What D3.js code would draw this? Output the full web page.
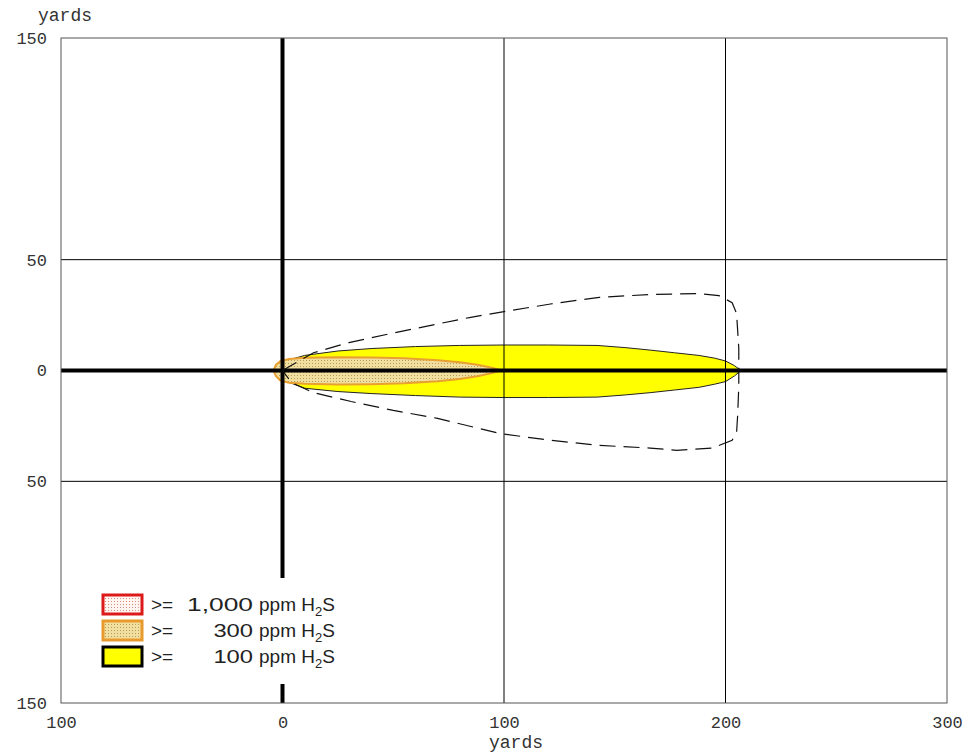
<!DOCTYPE html>
<html>
<head>
<meta charset="utf-8">
<script src="https://cdn.jsdelivr.net/npm/d3@7"></script>
<style>
  body { margin: 0; background: #fff; }
  svg { display: block; }
  .tick-label { font-family: "Liberation Mono", "DejaVu Sans Mono", monospace; font-size: 17px; fill: #333; }
  .legend-text { font-family: "Liberation Sans", Arial, sans-serif; font-size: 19px; fill: #222; }
</style>
</head>
<body>
<div id="chart"></div>
<script>
// axis ticks (yards)
const X_TICKS = [-100, 0, 100, 200, 300];
const Y_TICKS = [150, 50, 0, -50, -150];
const X_GRID = [0, 100, 200];
const Y_GRID = [50, 0, -50];

// 100 ppm plume (yellow), half widths
const plume100X = [-3, -1, 2, 10, 25, 40, 60, 80, 100, 120, 142, 155, 166, 177, 188, 195, 200, 204, 207];
const plume100Top = [0, 2.5, 4.5, 6.8, 8.8, 9.9, 10.8, 11.3, 11.5, 11.5, 11.3, 10.3, 9.2, 8.0, 6.8, 5.6, 4.3, 2.2, 0];
const plume100Bottom = [0, -2.5, -5, -8, -9.5, -10.4, -11.3, -12, -12.2, -12.2, -12, -11, -10, -8.8, -7.6, -6.2, -5, -2.5, 0];

// 300 ppm plume (orange)
const plume300X = [-4, -3, -1, 3, 10, 25, 40, 55, 70, 80, 88, 94, 99];
const plume300Top = [0, 2.5, 4.2, 5.2, 5.7, 6.0, 5.9, 5.5, 4.6, 3.7, 2.6, 1.4, 0];
const plume300Bottom = [0, -2.5, -4.5, -5.5, -6.0, -6.3, -6.2, -5.8, -4.8, -3.8, -2.6, -1.3, 0];

// dashed outer envelope
const envelopeX = [0, 14, 30, 49, 70, 85, 100, 121, 143, 166, 188, 197, 203, 205, 206, 206, 205.5, 205, 203, 194, 178, 166, 143, 121, 98, 70, 50, 31, 14, 4, 0];
const envelopeY = [0, 8, 12.6, 16.7, 21, 24, 26.6, 30, 33, 34.3, 34.7, 33.8, 30.6, 25.7, 10, -7, -20, -28, -31.5, -35, -36, -35, -33.8, -31.5, -28.4, -21.6, -18, -14, -10, -5.4, 0];

// legend
const legendLevels = ['1,000', '300', '100'];
const legendStroke = ['#dd1a1a', '#e89a2c', '#000000'];
const legendFill = ['url(#dotsRed)', 'url(#dotsOrange)', '#ffff00'];

const W = 969, H = 755;
const svg = d3.select('#chart').append('svg').attr('width', W).attr('height', H);

const defs = svg.append('defs');
const makeDots = (id, bg, dot) => {
  const p = defs.append('pattern').attr('id', id).attr('width', 3).attr('height', 3)
    .attr('patternUnits', 'userSpaceOnUse');
  p.append('rect').attr('width', 3).attr('height', 3).attr('fill', bg);
  p.append('rect').attr('width', 1).attr('height', 1).attr('fill', dot);
};
makeDots('dotsRed', '#fff6f2', '#d98a80');
makeDots('dotsOrange', '#f1df a0'.replace(' ', ''), '#b89a5a');

const x = d3.scaleLinear().domain([-100, 300]).range([61, 947]);
const y = d3.scaleLinear().domain([-150, 150]).range([703, 38]);

// plumes: closed outlines, top edge out and bottom edge back
const ring = (xs, ts, bs) => {
  const top = xs.map((v, i) => [v, ts[i]]);
  const bot = xs.map((v, i) => [v, bs[i]]).reverse();
  return top.concat(bot);
};
const line = d3.line().x(d => x(d[0])).y(d => y(d[1]));

svg.append('path')
  .attr('d', line(ring(plume100X, plume100Top, plume100Bottom)) + 'Z')
  .attr('fill', '#ffff00')
  .attr('stroke', '#222')
  .attr('stroke-width', 1);

svg.append('path')
  .attr('d', line(ring(plume300X, plume300Top, plume300Bottom)) + 'Z')
  .attr('fill', 'url(#dotsOrange)')
  .attr('stroke', '#e8a030')
  .attr('stroke-width', 2);

// grid lines
const grid = svg.append('g');
grid.selectAll('.gx').data(X_GRID).join('line')
  .attr('x1', d => x(d)).attr('x2', d => x(d))
  .attr('y1', y(150)).attr('y2', y(-150))
  .attr('stroke', '#000')
  .attr('stroke-width', d => d === 0 ? 4 : 1);
grid.selectAll('.gy').data(Y_GRID).join('line')
  .attr('y1', d => y(d)).attr('y2', d => y(d))
  .attr('x1', x(-100)).attr('x2', x(300))
  .attr('stroke', '#000')
  .attr('stroke-width', d => d === 0 ? 4 : 1);

// frame
svg.append('rect')
  .attr('x', x(-100)).attr('y', y(150))
  .attr('width', x(300) - x(-100)).attr('height', y(-150) - y(150))
  .attr('fill', 'none').attr('stroke', '#555').attr('stroke-width', 1);

// envelope
svg.append('path')
  .attr('d', line(envelopeX.map((v, i) => [v, envelopeY[i]])))
  .attr('fill', 'none')
  .attr('stroke', '#111')
  .attr('stroke-width', 1.2)
  .attr('stroke-dasharray', '16,8');

// axes (labels only)
const fmt = d => Math.abs(d);
const xAxis = svg.append('g').attr('transform', `translate(0,${y(-150) + 10})`)
  .call(d3.axisBottom(x).tickValues(X_TICKS).tickFormat(fmt).tickSize(0).tickPadding(0));
const yAxis = svg.append('g').attr('transform', `translate(${x(-100) - 14},0)`)
  .call(d3.axisLeft(y).tickValues(Y_TICKS).tickFormat(fmt).tickSize(0).tickPadding(0));
[xAxis, yAxis].forEach(a => {
  a.select('.domain').remove();
  a.selectAll('text').attr('class', 'tick-label').attr('font-family', null).attr('font-size', null).attr('fill', null);
});
xAxis.selectAll('text').attr('dy', '0.9em');

svg.append('text').attr('class', 'tick-label').attr('x', 65).attr('y', 21)
  .attr('text-anchor', 'middle').style('font-size', '18px').text('yards');
svg.append('text').attr('class', 'tick-label').attr('x', x(100) + 12).attr('y', 748)
  .attr('text-anchor', 'middle').style('font-size', '18px').text('yards');

// legend
const legend = svg.append('g');
legend.append('rect').attr('x', 88).attr('y', 578).attr('width', 258).attr('height', 106).attr('fill', '#fff');
const rows = legend.selectAll('g.row').data(legendLevels).join('g')
  .attr('class', 'row')
  .attr('transform', (d, i) => `translate(0,${595 + i * 26})`);
rows.append('rect')
  .attr('x', 103).attr('y', 0).attr('width', 39).attr('height', 19)
  .attr('fill', (d, i) => legendFill[i])
  .attr('stroke', (d, i) => legendStroke[i])
  .attr('stroke-width', 3);
rows.append('text').attr('class', 'legend-text').attr('x', 151).attr('y', 16).text('>=');
rows.append('text').attr('class', 'legend-text')
  .attr('x', d => 253 - d.length * 13.2)
  .attr('y', 16)
  .attr('textLength', d => d.length * 13.2)
  .attr('lengthAdjust', 'spacingAndGlyphs')
  .text(d => d);
const lbl = rows.append('text').attr('class', 'legend-text').attr('x', 259).attr('y', 16);
lbl.append('tspan').text('ppm H');
lbl.append('tspan').attr('dy', 5).attr('font-size', 13).text('2');
lbl.append('tspan').attr('dy', -5).text('S');
</script>
</body>
</html>
